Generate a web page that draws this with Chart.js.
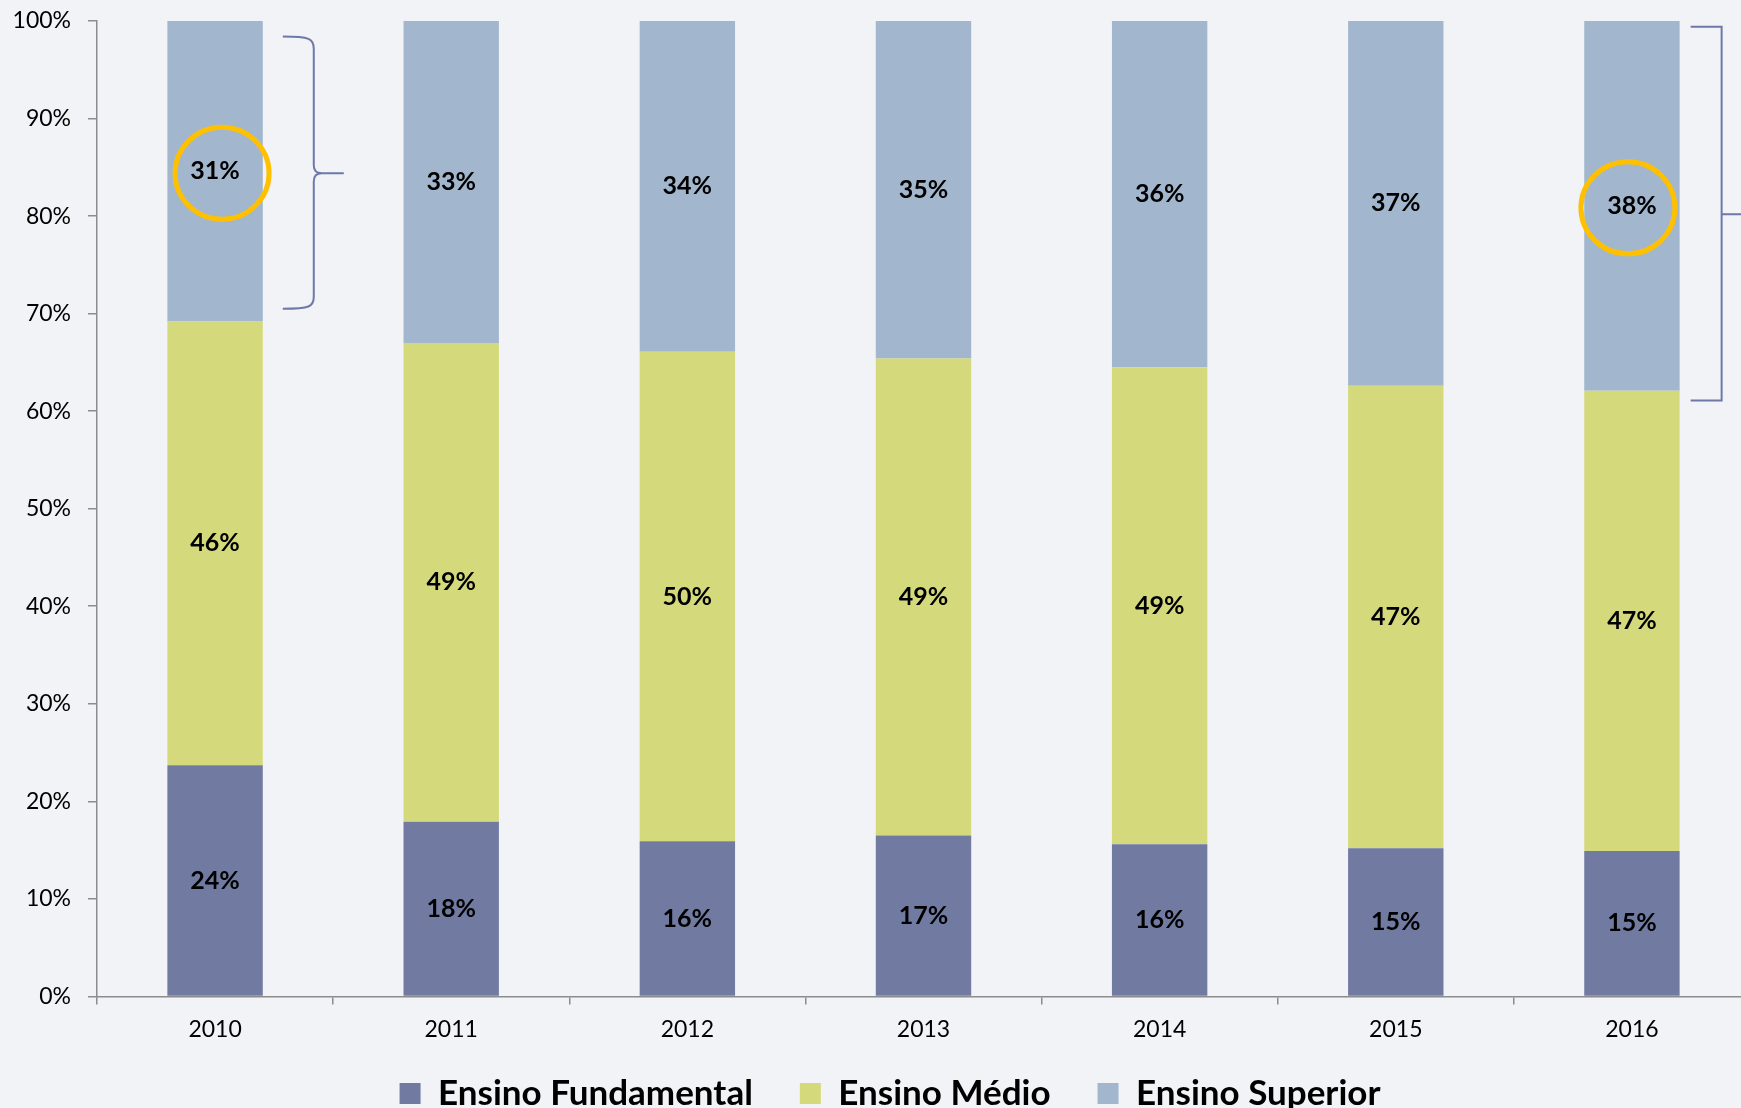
<!DOCTYPE html>
<html><head><meta charset="utf-8">
<script src="https://cdn.jsdelivr.net/npm/chart.js@4.4.1/dist/chart.umd.min.js"></script>
<style>
html,body{margin:0;padding:0;overflow:hidden;background:#f2f3f6;width:1741px;height:1108px}
#wrap{position:absolute;left:0;top:0;width:1760px;height:1119px}
canvas{display:block}
</style></head><body>
<div id="wrap"><canvas id="c" width="1760" height="1119"></canvas></div>
<script>
const categories = ['2010', '2011', '2012', '2013', '2014', '2015', '2016'];
const fundamental = [23.7, 17.9, 15.9, 16.5, 15.6, 15.2, 14.9];
const medio = [45.5, 49.1, 50.2, 48.9, 48.9, 47.4, 47.2];
const superior = [30.8, 33.0, 33.9, 34.6, 35.5, 37.4, 37.9];
const seriesNames = ['Ensino Fundamental', 'Ensino Médio', 'Ensino Superior'];
const yTickStep = 10;
const highlightCats = ['2010', '2016'];

const FONT = 'Lato, "Open Sans", sans-serif';
const colors = ['#717ba2', '#d4da7b', '#a2b7cd'];

const segLabels = {
  id: 'segLabels',
  afterDatasetsDraw(chart) {
    const ctx = chart.ctx;
    ctx.save();
    ctx.font = 'bold 25px ' + FONT;
    ctx.fillStyle = '#000';
    ctx.textAlign = 'center';
    ctx.textBaseline = 'middle';
    chart.data.datasets.forEach((ds, i) => {
      chart.getDatasetMeta(i).data.forEach((el, j) => {
        ctx.fillText(Math.round(ds.data[j]) + '%', el.x, (el.y + el.base) / 2);
      });
    });
    ctx.restore();
  }
};

const legendShift = {
  id: 'legendShift',
  beforeLayout(chart) {
    const lg = chart.legend;
    if (!lg || lg._shiftPatched) return;
    lg._shiftPatched = true;
    const D = 27, DY = 25, DX = 15;
    const fit = lg.fit;
    lg.fit = function () { fit.call(this); this.height -= D; };
    const draw = lg.draw;
    lg.draw = function () {
      const t = this.top, l = this.left, r = this.right;
      this.top = t - DY; this.left = l + DX; this.right = r + DX;
      draw.apply(this, arguments);
      this.top = t; this.left = l; this.right = r;
    };
  }
};

const annotations = {
  id: 'annotations',
  afterDraw(chart) {
    const ctx = chart.ctx;
    const ys = chart.scales.y;
    const supMeta = chart.getDatasetMeta(2);
    ctx.save();
    // highlight circles
    const dxs = [7, -4];
    highlightCats.forEach((c, k) => {
      const el = supMeta.data[categories.indexOf(c)];
      const cx = el.x + dxs[k];
      const cy = (el.y + el.base) / 2 + 2;
      ctx.beginPath();
      ctx.ellipse(cx, cy, 47, 46, 0, 0, Math.PI * 2);
      ctx.strokeStyle = '#ffc000';
      ctx.lineWidth = 5;
      ctx.stroke();
    });
    // curly brace next to first bar
    ctx.strokeStyle = '#6f78a8';
    ctx.lineWidth = 2;
    const e0 = supMeta.data[0];
    const right0 = e0.x + e0.width / 2;
    const x0 = right0 + 20, xv = right0 + 51, xt = right0 + 81;
    const yt = ys.getPixelForValue(98.4), yb = ys.getPixelForValue(70.5), ym = ys.getPixelForValue(84.4);
    ctx.beginPath();
    ctx.moveTo(x0, yt);
    ctx.bezierCurveTo(xv - 4, yt, xv, yt + 2, xv, yt + 12);
    ctx.lineTo(xv, ym - 8);
    ctx.quadraticCurveTo(xv, ym, xv + 8, ym);
    ctx.lineTo(xt, ym);
    ctx.moveTo(xv + 8, ym);
    ctx.quadraticCurveTo(xv, ym, xv, ym + 8);
    ctx.lineTo(xv, yb - 12);
    ctx.bezierCurveTo(xv, yb - 2, xv - 4, yb, x0, yb);
    ctx.stroke();
    // square bracket next to last bar
    const e6 = supMeta.data[6];
    const right6 = e6.x + e6.width / 2;
    const bx0 = right6 + 11, bxv = right6 + 42;
    const byt = ys.getPixelForValue(99.4), byb = ys.getPixelForValue(61.1), bym = ys.getPixelForValue(80.2);
    ctx.beginPath();
    ctx.moveTo(bx0, byt);
    ctx.lineTo(bxv, byt);
    ctx.lineTo(bxv, byb);
    ctx.lineTo(bx0, byb);
    ctx.moveTo(bxv, bym);
    ctx.lineTo(bxv + 80, bym);
    ctx.stroke();
    ctx.restore();
  }
};

const datasets = [fundamental, medio, superior].map((d, i) => ({
  label: seriesNames[i],
  data: d,
  backgroundColor: colors[i],
  borderWidth: 0,
  barPercentage: 0.404,
  categoryPercentage: 1.0
}));

new Chart(document.getElementById('c'), {
  type: 'bar',
  data: { labels: categories, datasets },
  options: {
    responsive: false,
    animation: false,
    devicePixelRatio: 1,
    layout: { padding: { left: 0, right: 10, top: 21, bottom: 0 } },
    plugins: {
      tooltip: { enabled: false },
      legend: {
        position: 'bottom',
        labels: {
          font: { family: FONT, size: 35, weight: 'bold' },
          color: '#000',
          boxWidth: 21,
          boxHeight: 21,
          padding: 47
        }
      }
    },
    scales: {
      x: {
        stacked: true,
        grid: { drawOnChartArea: false, drawTicks: true, tickLength: 8, color: '#8c8c8c', lineWidth: 1.5 },
        border: { color: '#8c8c8c', width: 1.5 },
        ticks: { font: { family: FONT, size: 23 }, color: '#000', padding: 11 }
      },
      y: {
        stacked: true,
        min: 0,
        max: 100,
        grid: { drawOnChartArea: false, drawTicks: true, tickLength: 9, color: '#8c8c8c', lineWidth: 1.5 },
        border: { color: '#8c8c8c', width: 1.5 },
        ticks: {
          stepSize: yTickStep,
          font: { family: FONT, size: 23 },
          color: '#000',
          padding: 17,
          callback: v => v + '%'
        },
        afterFit(s) { s.width = 97; s.paddingTop = 0; s.paddingBottom = 0; }
      }
    }
  },
  plugins: [segLabels, legendShift, annotations]
});
</script>
</body></html>
